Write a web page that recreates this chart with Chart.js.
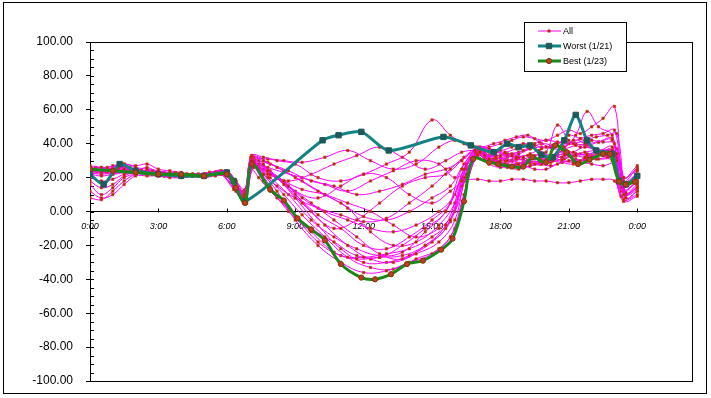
<!DOCTYPE html>
<html>
<head>
<meta charset="utf-8">
<script src="https://cdn.jsdelivr.net/npm/chart.js@4/dist/chart.umd.min.js"></script>
<style>
  html, body { margin: 0; padding: 0; background: #fff; }
  #wrap { width: 711px; height: 398px; }
</style>
</head>
<body>
<div id="wrap"><canvas id="chart" width="711" height="398"></canvas></div>
<script>
// times of day in hours; the "All" days were not all sampled at the same moments
const hoursA = [0,0.5,1,1.5,2,2.5,3,3.5,4,4.5,5,5.5,6, 6.4,6.8,
  7.1,7.6,8.2,9,10,11,12,13,14,15,15.8,16.4,17,
  17.5,18,18.5,19,19.5,20,20.5,21,21.5,22,22.5,23, 23.4,24];
const hoursB = [0,0.5,1,1.5,2,2.5,3,3.5,4,4.5,5,5.5,6, 6.4,6.8,
  7.2,7.8,8.5,9.3,10.3,11.3,12.3,13.3,14.3,15.3,16,16.5,17.1,
  17.7,18.2,18.7,19.2,19.7,20.2,20.7,21.2,21.7,22.2,22.7,23.1, 23.5,24];
const hoursC = [0,0.25,0.75,1.25,1.75,2.25,2.75,3.25,3.75,4.25,4.75,5.25,5.75, 6.3,6.75,
  7.05,7.4,7.9,8.7,9.7,10.7,11.7,12.7,13.7,14.7,15.6,16.3,16.9,
  17.3,17.8,18.3,18.8,19.3,19.8,20.3,20.8,21.3,21.8,22.3,22.9, 23.3,24];

const all01 = [25,24,24,25,24,23,22,22,21,21,21,22,22, 14,8, 30,22,12,-5,-20,-30,-36,-35,-30,-25,-15,10,33, 31,30,33,32,28,30,35,33,30,32,33,30, 10,14];
const all02 = [24,23,22,23,24,22,22,21,22,21,20,21,21, 12,6, 28,20,10,-2,-15,-27,-33,-34,-28,-22,-10,15,35, 30,28,31,30,34,33,32,35,38,36,35,34, 8,12];
const all03 = [26,25,26,27,26,24,23,22,22,22,21,22,23, 16,10, 32,25,15,0,-12,-24,-28,-27,-26,-20,-8,18,36, 33,32,30,28,29,30,32,36,34,33,31,30, 12,18];
const all04 = [16,10,14,20,22,22,21,20,20,21,21,22,22, 15,12, 27,18,8,-3,-18,-26,-27,-25,-22,-15,-5,20,34, 28,26,27,27,25,25,28,30,29,28,27,28, 7,10];
const all05 = [8,7,12,18,22,23,23,22,22,22,22,23,23, 17,9, 30,24,16,5,-8,-20,-28,-30,-25,-18,-5,22,37, 36,35,37,38,36,33,36,42,40,36,33,30, 15,20];
const all06 = [23,24,24,25,25,23,22,21,21,21,21,22,22, 13,7, 25,20,12,2,-10,-18,-26,-27,-20,-10,0,25,35, 32,30,28,26,27,28,30,33,31,30,34,36, 9,16];
const all07 = [27,26,25,28,26,25,24,23,22,22,22,23,24, 18,11, 33,28,20,10,-2,-10,-20,-22,-15,-5,5,25,38, 37,36,38,40,39,38,40,45,43,42,41,40, 20,25];
const all08 = [18,14,16,21,23,22,22,21,21,21,21,22,22, 14,10, 28,24,18,8,0,-5,-10,-12,-8,0,10,28,36, 31,30,32,33,31,30,29,28,32,35,33,32, 8,12];
const all09 = [25,26,25,26,24,23,22,21,21,22,22,23,23, 16,8, 30,27,22,15,5,-5,-15,-25,-28,-20,-10,15,33, 30,28,26,25,27,30,32,34,33,32,35,38, 14,22];
const all10 = [22,23,24,24,23,23,22,22,22,21,21,22,22, 15,11, 32,30,26,20,12,5,-3,-5,0,8,15,28,37, 35,33,34,36,40,42,41,40,43,45,46,48, 18,26];
const all11 = [12,8,10,16,21,21,21,21,21,21,21,22,22, 14,9, 26,22,18,13,10,5,0,-8,-15,-10,0,20,34, 30,27,28,30,31,32,30,29,31,33,32,31, 10,13];
const all12 = [24,25,24,26,25,24,24,23,23,22,22,23,24, 17,12, 31,30,28,24,18,15,10,12,16,22,25,30,36, 34,33,34,35,37,38,37,37,39,40,41,42, 16,21];
const all13 = [26,25,27,28,27,28,25,24,23,22,22,23,24, 18,13, 33,32,30,28,20,18,22,28,35,54,45,40,37, 38,40,42,44,43,42,45,48,46,50,55,62, 20,27];
const all14 = [23,24,23,24,24,24,23,22,22,22,22,22,23, 16,11, 30,31,30,29,32,36,30,25,28,38,42,40,38, 40,42,44,45,41,38,39,40,42,44,45,46, 15,24];
const all15 = [25,24,24,25,23,23,22,22,22,21,21,22,22, 15,9, 28,26,22,18,22,28,33,38,32,25,30,35,36, 35,35,33,32,34,37,39,41,40,39,41,43, 17,22];
const all16 = [20,18,19,22,23,22,22,21,21,21,21,22,22, 14,10, 27,25,20,12,8,15,22,20,10,5,12,18,19, 18,18,19,19,18,18,17,17,18,19,19,18, 6,9];
const all17 = [24,23,24,25,24,26,23,22,21,21,21,22,23, 15,11, 29,26,23,20,16,12,18,24,30,28,20,25,34, 29,28,28,29,28,27,29,30,30,31,32,34, 11,15];
const all18 = [26,25,25,27,25,24,23,22,22,22,22,23,24, 17,12, 30,28,24,15,0,-10,-5,5,15,20,22,30,36, 33,31,33,34,37,40,39,38,45,59,50,45, 20,24];
const all19 = [22,21,22,24,23,23,22,21,21,21,21,22,22, 15,10, 26,22,15,8,2,-2,-6,-4,5,15,25,32,37, 30,29,30,31,33,35,51,42,38,38,36,35, 12,18];
const all20 = [25,26,25,26,25,24,23,22,22,22,22,23,23, 16,12, 32,29,24,18,10,2,-12,-20,-18,-8,5,26,36, 35,34,31,30,29,29,31,33,35,36,36,37, 16,20];
const all21 = [24,24,23,25,24,23,23,22,21,21,21,22,22, 14,8, 28,25,20,10,-5,-15,-22,-26,-24,-12,0,20,35, 31,30,32,32,29,28,30,31,33,34,35,36, 9,14];
const all22 = [23,22,23,24,24,23,22,21,21,21,21,22,22, 15,9, 31,27,20,8,-8,-22,-30,-30,-26,-18,-6,18,36, 33,32,30,29,31,31,33,35,34,33,34,34, 13,17];
const allSeries = [all01,all02,all03,all04,all05,all06,all07,all08,all09,all10,all11,
  all12,all13,all14,all15,all16,all17,all18,all19,all20,all21,all22];
const allHours = [hoursA, hoursB, hoursC];

const worstHours = [0,0.6,1.3,2,3,4,5,6,6.3,6.8,10.2,10.9,11.9,13.1,15.5,16.7,17.7,18.3,18.8,19.3,19.8,20.3,20.8,21.3,21.8,22.2,22.9,23.2,23.5,24];
const worstValues = [22,16,28,24,22,21,21,23,18,6,42,45,47,36,44,39,35,40,38,39,33.5,32,42,57,42,36,34,18,16,21];

const bestHours = [0,1,2,3,4,5,6,6.4,6.8,7.1,7.9,8.5,9.1,9.7,10.3,11,11.9,12.5,13.2,13.9,14.6,15.4,15.9,16.4,16.8,17.5,17.9,18.5,19,19.4,20,20.4,20.9,21.4,21.9,22.5,22.8,23.2,23.5,23.9];
const bestValues = [25,24,23,22,22,21,22,14,5,28,13,6.5,-4,-10.6,-17,-31,-39,-40,-37,-31,-29,-22.5,-16,6,31,29,28,26.5,26.5,32,29,39,35,28,30.5,34,34,17.6,16,17.6];

const legendLabels = ['All', 'Worst (1/21)', 'Best (1/23)'];
const xTickLabels = ['0:00','3:00','6:00','9:00','12:00','15:00','18:00','21:00','0:00'];

function pts(xs, ys) {
  return xs.map((t, i) => ({ x: t, y: ys[i] }));
}

const datasets = allSeries.map((s, i) => ({
  label: i === 0 ? legendLabels[0] : '',
  data: pts(allHours[i % 3], s),
  borderColor: '#ff00ff',
  borderWidth: 1,
  pointStyle: 'rect',
  pointRadius: 1.7,
  pointBackgroundColor: '#b02000',
  pointBorderColor: '#d04010',
  pointBorderWidth: 0.6,
  tension: 0.4,
  order: 3
}));

datasets.push({
  label: legendLabels[1],
  data: pts(worstHours, worstValues),
  borderColor: '#138282',
  borderWidth: 3,
  pointStyle: 'rect',
  pointRadius: 3.8,
  pointBackgroundColor: '#1f5a5a',
  pointBorderColor: '#1f5a5a',
  pointBorderWidth: 1,
  tension: 0.25,
  order: 2
});

datasets.push({
  label: legendLabels[2],
  data: pts(bestHours, bestValues),
  borderColor: '#168a16',
  borderWidth: 3,
  pointStyle: 'circle',
  pointRadius: 2.6,
  pointBackgroundColor: '#b5441c',
  pointBorderColor: '#8a3010',
  pointBorderWidth: 1,
  tension: 0.35,
  order: 1
});

const decor = {
  id: 'decor',
  beforeDraw(chart) {
    const ctx = chart.ctx;
    ctx.save();
    ctx.fillStyle = '#fff';
    ctx.fillRect(0, 0, chart.width, chart.height);
    ctx.strokeStyle = '#000';
    ctx.lineWidth = 1;
    ctx.strokeRect(3.5, 2.5, 703, 391);
    ctx.restore();
  },
  beforeDatasetsDraw(chart) {
    const { ctx, chartArea: a, scales: { x, y } } = chart;
    ctx.save();
    ctx.strokeStyle = '#000';
    ctx.lineWidth = 1;
    ctx.strokeRect(a.left + 0.5, a.top + 0.5, a.right - a.left, a.bottom - a.top);
    ctx.beginPath();
    // minor ticks inside the value axis
    for (let v = -100; v <= 100; v += 5) {
      const py = Math.round(y.getPixelForValue(v)) + 0.5;
      ctx.moveTo(a.left, py);
      ctx.lineTo(a.left + 4, py);
    }
    // time ticks pointing up from the zero line
    const y0 = Math.round(y.getPixelForValue(0)) + 0.5;
    x.ticks.forEach(t => {
      const px = Math.round(x.getPixelForValue(t.value)) + 0.5;
      ctx.moveTo(px, y0 - 4);
      ctx.lineTo(px, y0);
    });
    ctx.stroke();
    ctx.restore();
  },
  afterDraw(chart) {
    const ctx = chart.ctx;
    const bx = 524, by = 22, bw = 102, bh = 49;
    ctx.save();
    ctx.fillStyle = '#fff';
    ctx.fillRect(bx, by, bw, bh);
    ctx.strokeStyle = '#000';
    ctx.lineWidth = 1;
    ctx.strokeRect(bx + 0.5, by + 0.5, bw, bh);
    const shown = chart.data.datasets.filter(d => d.label);
    shown.forEach((d, i) => {
      const ry = by + 9 + i * 15;
      ctx.strokeStyle = d.borderColor;
      ctx.lineWidth = d.borderWidth;
      ctx.beginPath();
      ctx.moveTo(bx + 14, ry);
      ctx.lineTo(bx + 37, ry);
      ctx.stroke();
      ctx.fillStyle = d.pointBackgroundColor;
      ctx.strokeStyle = d.pointBorderColor;
      ctx.lineWidth = d.pointBorderWidth;
      Chart.helpers.drawPoint(ctx, { pointStyle: d.pointStyle, radius: d.pointRadius, rotation: 0, borderWidth: d.pointBorderWidth }, bx + 25, ry);
      ctx.fillStyle = '#000';
      ctx.font = '9px "Liberation Sans", Arial, sans-serif';
      ctx.textBaseline = 'middle';
      ctx.textAlign = 'left';
      ctx.fillText(d.label, bx + 39, ry + 1);
    });
    ctx.restore();
  }
};

new Chart(document.getElementById('chart'), {
  type: 'line',
  data: { datasets },
  options: {
    responsive: false,
    animation: false,
    devicePixelRatio: 1,
    layout: { padding: { left: 0, top: 42, right: 19, bottom: 17 } },
    plugins: { legend: { display: false }, tooltip: { enabled: false } },
    scales: {
      x: {
        type: 'linear',
        position: { y: 0 },
        min: 0,
        max: 26.4,
        grid: { drawOnChartArea: false, drawTicks: false },
        border: { display: true, color: '#000', width: 1 },
        ticks: {
          stepSize: 3,
          includeBounds: false,
          autoSkip: false,
          maxRotation: 0,
          padding: 10,
          color: '#000',
          font: { family: '"Liberation Sans", Arial, sans-serif', size: 9, style: 'italic' },
          callback: v => xTickLabels[v / 3]
        }
      },
      y: {
        min: -100,
        max: 100,
        afterFit: s => { s.width = 90; s.paddingTop = 0; s.paddingBottom = 0; },
        grid: { drawOnChartArea: false, drawTicks: true, tickLength: 4, color: '#000' },
        border: { display: true, color: '#000', width: 1 },
        ticks: {
          stepSize: 20,
          padding: 13,
          color: '#000',
          font: { family: '"Liberation Sans", Arial, sans-serif', size: 12 },
          callback: v => v.toFixed(2)
        }
      }
    }
  },
  plugins: [decor]
});
</script>
</body>
</html>
